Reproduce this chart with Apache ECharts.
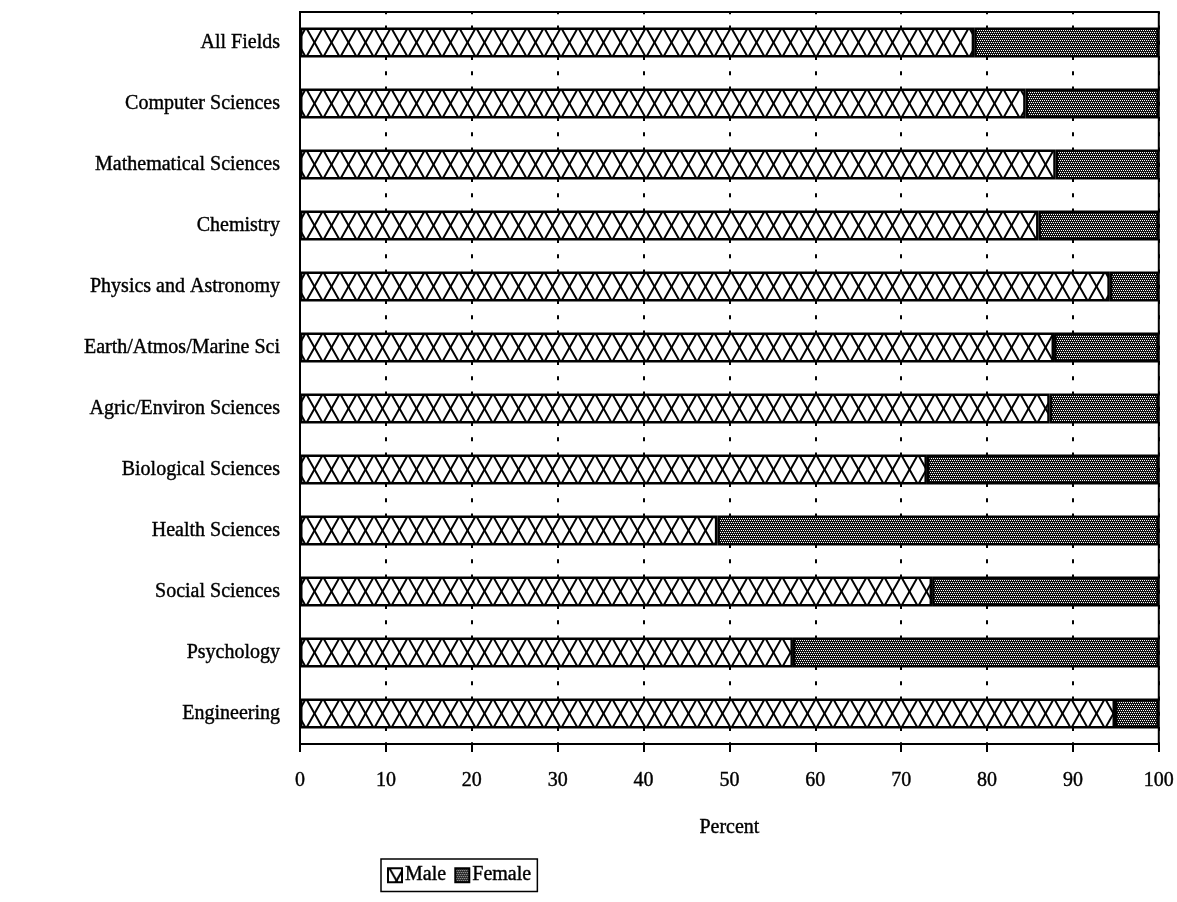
<!DOCTYPE html>
<html>
<head>
<meta charset="utf-8">
<script src="https://cdn.jsdelivr.net/npm/echarts@6/dist/echarts.min.js"></script>
<style>
  html, body { margin: 0; padding: 0; background: #fff; }
  #chart { width: 1177px; height: 902px; }
</style>
</head>
<body>
<div id="chart"></div>
<script>
const fields = [
  "All Fields", "Computer Sciences", "Mathematical Sciences", "Chemistry",
  "Physics and Astronomy", "Earth/Atmos/Marine Sci", "Agric/Environ Sciences",
  "Biological Sciences", "Health Sciences", "Social Sciences", "Psychology", "Engineering"
];
const malePct = [78.5, 84.5, 88, 86, 94.3, 87.8, 87.3, 73, 48.6, 73.6, 57.4, 94.9];
const femalePct = malePct.map((m) => +(100 - m).toFixed(1));
const percentTicks = [0, 10, 20, 30, 40, 50, 60, 70, 80, 90, 100];

const FONT = "Liberation Serif";
// scanned print looks a bit heavier than plain Times
const inkText = { fontFamily: FONT, fontSize: 20, color: "#000", textBorderColor: "#000", textBorderWidth: 0.4 };

// crosshatch tile, lined up with the bar rows (row = 61px, bar = 30px)
const makeCrossHatch = () => {
  const w = 17, h = 61, top = 27.5, bot = 57.5;
  const c = document.createElement("canvas");
  c.width = w; c.height = h;
  const ctx = c.getContext("2d");
  ctx.fillStyle = "#fff";
  ctx.fillRect(0, 0, w, h);
  ctx.strokeStyle = "#000";
  ctx.lineWidth = 2;
  const slope = (bot - top) / w;
  for (let k = -3; k <= 3; k++) {
    ctx.beginPath();
    ctx.moveTo(k * w - w * 2, top - slope * w * 2);
    ctx.lineTo(k * w + w * 3, top + slope * w * 3);
    ctx.stroke();
    ctx.beginPath();
    ctx.moveTo(k * w - w * 2, bot + slope * w * 2);
    ctx.lineTo(k * w + w * 3, bot - slope * w * 3);
    ctx.stroke();
  }
  return c;
};

// fine dark stipple
const makeStipple = () => {
  const c = document.createElement("canvas");
  c.width = 4; c.height = 4;
  const ctx = c.getContext("2d");
  ctx.fillStyle = "#111";
  ctx.fillRect(0, 0, 4, 4);
  ctx.fillStyle = "#fff";
  [[0, 0], [2, 0], [1, 2], [3, 2]].forEach(([x, y]) => ctx.fillRect(x, y, 1, 1));
  return c;
};

const chart = echarts.init(document.getElementById("chart"));

const option = {
  animation: false,
  backgroundColor: "#fff",
  textStyle: { fontFamily: FONT, color: "#000" },
  grid: {
    left: 300,
    right: 18,
    top: 12,
    height: 732,
    show: true,
    borderColor: "#000",
    borderWidth: 2,
    containLabel: false,
  },
  legend: {
    left: 381,
    top: 859,
    orient: "horizontal",
    icon: "rect",
    padding: [6, 6],
    borderColor: "#000",
    borderWidth: 1.5,
    itemWidth: 14,
    itemHeight: 14,
    itemGap: 8,
    textStyle: Object.assign({}, inkText, { padding: [0, 0, 0, -2] }),
    data: ["Male", "Female"],
  },
  xAxis: {
    type: "value",
    min: 0,
    max: 100,
    interval: 10,
    name: "Percent",
    nameLocation: "middle",
    nameGap: 74,
    nameTextStyle: inkText,
    axisLine: { show: true, lineStyle: { color: "#000", width: 2 } },
    axisTick: { show: true, length: 8, lineStyle: { color: "#000", width: 2 } },
    axisLabel: Object.assign({}, inkText, {
      margin: 27,
      formatter: (v) => (percentTicks.includes(v) ? String(v) : ""),
    }),
    splitLine: {
      show: true,
      lineStyle: { color: "#000", width: 2, type: [4, 11.25], dashOffset: 1.75 },
    },
  },
  yAxis: {
    type: "category",
    inverse: true,
    data: fields,
    axisLine: { show: true, lineStyle: { color: "#000", width: 2 } },
    axisTick: { show: false },
    axisLabel: Object.assign({}, inkText, { margin: 20 }),
  },
  series: [
    {
      name: "Male",
      type: "bar",
      stack: "total",
      barWidth: 30,
      data: malePct,
      itemStyle: {
        color: { image: makeCrossHatch(), repeat: "repeat" },
        borderColor: "#000",
        borderWidth: 2.5,
      },
    },
    {
      name: "Female",
      type: "bar",
      stack: "total",
      barWidth: 30,
      data: femalePct,
      itemStyle: {
        color: { image: makeStipple(), repeat: "repeat" },
        borderColor: "#000",
        borderWidth: 2.5,
      },
    },
  ],
};

chart.setOption(option);
</script>
</body>
</html>
